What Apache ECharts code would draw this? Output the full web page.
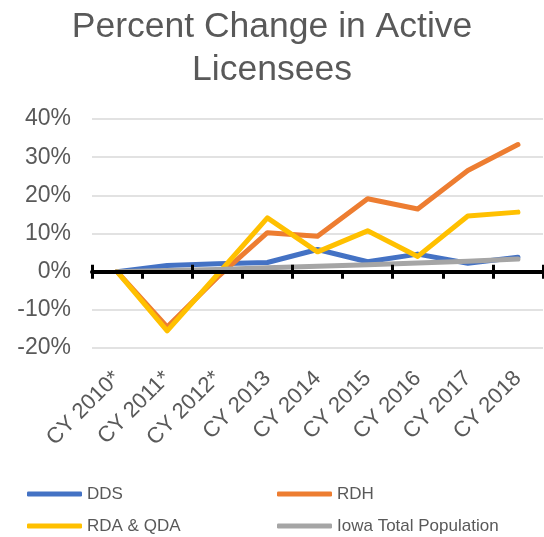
<!DOCTYPE html>
<html>
<head>
<meta charset="utf-8">
<script src="https://cdn.jsdelivr.net/npm/echarts@6/dist/echarts.min.js"></script>
<style>html,body{margin:0;padding:0;background:#fff}#c{width:544px;height:537px}</style>
</head>
<body>
<div id="c"></div>
<script>
var categories = ['CY 2010*', 'CY 2011*', 'CY 2012*', 'CY 2013', 'CY 2014', 'CY 2015', 'CY 2016', 'CY 2017', 'CY 2018'];
var dds = [0, 1.6, 2.1, 2.4, 5.8, 2.6, 4.6, 2.2, 3.8];
var rdh = [0, -14.5, -1.5, 10.2, 9.3, 19.1, 16.4, 26.5, 33.3];
var rdaQda = [0, -15.5, -0.8, 14.1, 5.2, 10.7, 4.0, 14.6, 15.6];
var iowa = [0, 0.3, 0.6, 1.0, 1.4, 1.8, 2.3, 2.7, 3.3];
var yTicks = { min: -20, max: 40, interval: 10 };

var chart = echarts.init(document.getElementById('c'));
var txt = '#595959';
var font = 'Liberation Sans, Arial, sans-serif';
function line(name, data, color) {
  return { name: name, type: 'line', data: data, xAxisIndex: 0, yAxisIndex: 0,
    symbol: 'none', lineStyle: { color: color, width: 5, cap: 'round', join: 'round' },
    itemStyle: { color: color } };
}
var legendText = { fontFamily: font, fontSize: 17, color: txt, lineHeight: 20 };
chart.setOption({
  animation: false,
  title: { text: 'Percent Change in Active\nLicensees', left: 'center', top: 1,
    textStyle: { fontFamily: font, fontSize: 35.5, fontWeight: 'normal', color: txt, lineHeight: 43 } },
  grid: { left: 92, right: 1, top: 119, bottom: 189, containLabel: false },
  legend: [
    { data: ['DDS', 'RDA & QDA'], orient: 'vertical', left: 27, top: 484, itemGap: 12, padding: 0,
      itemWidth: 55, itemHeight: 5, icon: 'roundRect', textStyle: legendText },
    { data: ['RDH', 'Iowa Total Population'], orient: 'vertical', left: 277, top: 484, itemGap: 12, padding: 0,
      itemWidth: 55, itemHeight: 5, icon: 'roundRect', textStyle: legendText }
  ],
  xAxis: [
    { type: 'category', data: categories, position: 'bottom', boundaryGap: true,
      axisLine: { show: true, onZero: true, onZeroAxisIndex: 0, lineStyle: { color: '#000', width: 4 } },
      axisTick: { show: true, length: 7, lineStyle: { color: '#000', width: 3 } },
      axisLabel: { interval: 0, rotate: 45, margin: 27,
        fontFamily: font, fontSize: 22, color: txt },
      splitLine: { show: false }, z: 5 },
    { type: 'category', data: categories, position: 'top', boundaryGap: true,
      axisLine: { show: false, onZero: true, onZeroAxisIndex: 1 },
      axisTick: { show: true, length: 7, lineStyle: { color: '#000', width: 3 } },
      axisLabel: { show: false }, splitLine: { show: false }, z: 5 }
  ],
  yAxis: [
    { type: 'value', min: yTicks.min, max: yTicks.max, interval: yTicks.interval,
      axisLine: { show: false }, axisTick: { show: false },
      axisLabel: { formatter: '{value}%', margin: 21, fontFamily: font, fontSize: 23, color: txt },
      splitLine: { lineStyle: { color: '#D9D9D9', width: 1.5 } } },
    { type: 'value', min: yTicks.min, max: yTicks.max, interval: yTicks.interval, position: 'right',
      axisLine: { show: false }, axisTick: { show: false }, axisLabel: { show: false },
      splitLine: { show: false } }
  ],
  series: [
    line('DDS', dds, '#4472C4'),
    line('RDH', rdh, '#ED7D31'),
    line('RDA & QDA', rdaQda, '#FFC000'),
    line('Iowa Total Population', iowa, '#A5A5A5')
  ]
});
</script>
</body>
</html>
